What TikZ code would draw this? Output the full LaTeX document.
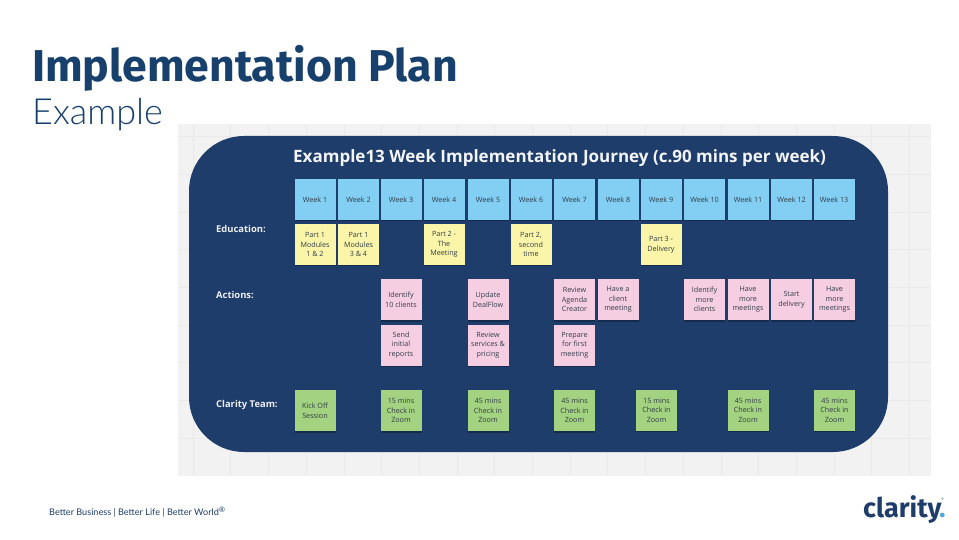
\documentclass[tikz,border=0pt]{standalone}
\usepackage{fontspec}
\setmainfont{Open Sans}
\newfontfamily\headfont{Fira Sans}
\newfontfamily\lightfont{Lato Light}
\newfontfamily\footfont{Lato}
\definecolor{navyband}{HTML}{1E3D6B}
\definecolor{headblue}{HTML}{17406D}
\definecolor{boardgrey}{HTML}{F2F2F2}
\definecolor{gridgrey}{HTML}{EAEAEA}
\definecolor{weekblue}{HTML}{82CFF3}
\definecolor{eduyellow}{HTML}{FAF5A8}
\definecolor{actpink}{HTML}{F5CEE2}
\definecolor{teamgreen}{HTML}{A3D280}
\definecolor{stickyshadow}{HTML}{142B4E}
\definecolor{stickytext}{HTML}{333D48}
\definecolor{logoblue}{HTML}{52A8DC}
\tikzset{
  sticky/.style={minimum width=41pt,minimum height=41pt,inner sep=0pt,align=center,
    font=\fontsize{7.2}{9.6}\selectfont,text=stickytext,
    preaction={fill=stickyshadow,transform canvas={yshift=-1.5pt}}},
  weeknote/.style={sticky,fill=weekblue},
  edunote/.style={sticky,fill=eduyellow},
  actnote/.style={sticky,fill=actpink},
  teamnote/.style={sticky,fill=teamgreen},
  rowlabel/.style={anchor=west,inner sep=0pt,text=white!92!navyband,font=\fontsize{9.4}{11}\selectfont\bfseries}
}
\begin{document}
\begin{tikzpicture}[x=1pt,y=-1pt]
\useasboundingbox (0,0) rectangle (959,540);
% board
\fill[boardgrey] (178,124) rectangle (931,476);
\foreach \gx in {193,230.7,...,910} {\draw[gridgrey,line width=.6pt] (\gx,124) -- (\gx,476);}
\foreach \gy in {136.5,174.2,...,470} {\draw[gridgrey,line width=.6pt] (178,\gy) -- (931,\gy);}
\fill[navyband,rounded corners=55pt] (189,136) rectangle (888,452);
% headings
\node[anchor=base west,inner sep=0pt,text=headblue,font=\headfont\fontsize{44.6}{45}\selectfont\bfseries] (mainTitle) at (32,82) {Implementation Plan};
\node[anchor=base west,inner sep=0pt,text=headblue,font=\lightfont\fontsize{36}{36}\selectfont] (subTitle) at (32,125) {Example};
\node[anchor=base west,inner sep=0pt,text=white!95!navyband,font=\fontsize{17}{19}\selectfont\bfseries] (boardTitle) at (293,163) {Example13 Week Implementation Journey (c.90 mins per week)};
% row labels
\node[rowlabel] (eduLabel) at (216,228.5) {Education:};
\node[rowlabel] (actLabel) at (216,294.5) {Actions:};
\node[rowlabel] (teamLabel) at (216,405.5) {Clarity Team:};
% weeks
\foreach \wx/\wn in {315/1,358.5/2,401/3,444/4,488/5,531/6,574.5/7,618/8,661/9,704.5/10,748/11,791.5/12,834/13}
  \node[weeknote] (week\wn) at (\wx,199.5) {Week \wn};
% education
\foreach \ex/\etxt/\en in {315/{Part 1\\Modules\\1 \& 2}/a,358.5/{Part 1\\Modules\\3 \& 4}/b,444/{Part 2 -\\The\\Meeting}/c,531/{Part 2,\\second\\time}/d,661/{Part 3 -\\Delivery}/e}
  \node[edunote] (edu\en) at (\ex,244.5) {\etxt};
% actions
\foreach \ax/\atxt/\an in {401/{Identify\\10 clients}/a,488/{Update\\DealFlow}/b,574.5/{Review\\Agenda\\Creator}/c,618/{Have a\\client\\meeting}/d,704.5/{Identify\\more\\clients}/e,748/{Have\\more\\meetings}/f,791.5/{Start\\delivery}/g,834.5/{Have\\more\\meetings}/h}
  \node[actnote] (act\an) at (\ax,299.5) {\atxt};
\foreach \ax/\atxt/\an in {401/{Send\\initial\\reports}/i,488/{Review\\services \&\\pricing}/j,574.5/{Prepare\\for first\\meeting}/k}
  \node[actnote] (act\an) at (\ax,345) {\atxt};
% clarity team
\foreach \tx/\ty/\ttxt/\tn in {315/410.5/{Kick Off\\Session}/a,401/410.5/{15 mins\\Check in\\Zoom}/b,488/410.5/{45 mins\\Check in\\Zoom}/c,574.5/410.5/{45 mins\\Check in\\Zoom}/d,656.5/410/{15 mins\\Check in\\Zoom}/e,748/410/{45 mins\\Check in\\Zoom}/f,834.5/410/{45 mins\\Check in\\Zoom}/g}
  \node[teamnote] (team\tn) at (\tx,\ty) {\ttxt};
% footer
\node[anchor=base west,inner sep=0pt,text=navyband,font=\footfont\fontsize{9.1}{11}\selectfont] (tagLine) at (49,515) {Better Business | Better Life | Better World\raisebox{3pt}{\fontsize{7.5}{7.5}\selectfont\textregistered}};
\node[anchor=base west,inner sep=0pt,text=navyband,font=\headfont\fontsize{27}{27}\selectfont\bfseries] (logoText) at (863,517) {clarity};
\fill[logoblue] (942.3,515) circle (2.4);
\draw[gray!70,line width=.4pt] (942.5,498.5) circle (1.2);
\end{tikzpicture}
\end{document}
